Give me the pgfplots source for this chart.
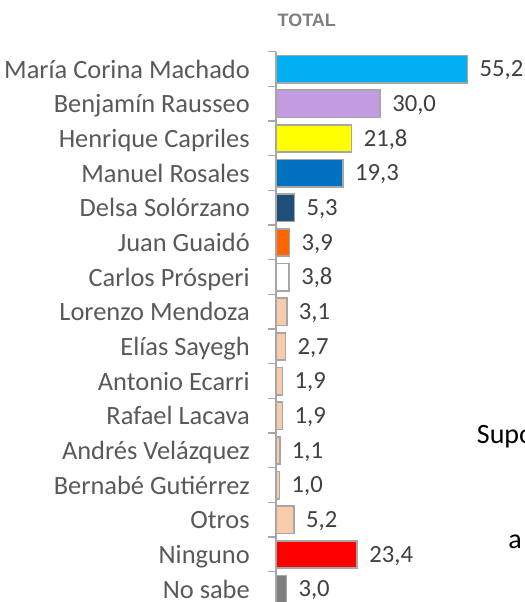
\documentclass[border=0pt]{standalone}
\usepackage{fontspec}
\setmainfont{Carlito}
\newfontfamily\arialfont{Liberation Sans}
\usepackage{pgfplots}
\pgfplotsset{compat=1.18}

\definecolor{labgray}{HTML}{595959}
\definecolor{valgray}{HTML}{404040}
\definecolor{edgegray}{HTML}{A6A6A6}
\definecolor{titlegray}{HTML}{7F7F7F}
\definecolor{ccyan}{HTML}{00B0F0}
\definecolor{clav}{HTML}{C39BE0}
\definecolor{cyel}{HTML}{FFFF00}
\definecolor{cblue}{HTML}{0070C0}
\definecolor{cnavy}{HTML}{1F4E79}
\definecolor{corange}{HTML}{FF6600}
\definecolor{cpeach}{HTML}{F8CBAD}
\definecolor{cred}{HTML}{FF0000}
\definecolor{cgray}{HTML}{808080}

\begin{document}
\begin{tikzpicture}
\begin{axis}[
    anchor=north west, at={(207pt,-38.8pt)},
    scale only axis, width=182.2pt, height=416pt,
    xmin=0, xmax=70, ymin=-0.5, ymax=15.5,
    y dir=reverse, clip=false,
    axis x line=none, axis y line*=left,
    y axis line style={-, draw=edgegray, line width=1.1pt},
    xtick=\empty,
    ytick={0,...,15},
    yticklabels={María Corina Machado, Benjamín Rausseo, Henrique Capriles,
        Manuel Rosales, Delsa Solórzano, Juan Guaidó, Carlos Prósperi,
        Lorenzo Mendoza, Elías Sayegh, Antonio Ecarri, Rafael Lacava,
        Andrés Velázquez, Bernabé Gutiérrez, Otros, Ninguno, No sabe},
    minor ytick={-0.5,0.5,...,15.5},
    ytick pos=left, tick align=outside,
    major tick length=0pt, minor tick length=6pt,
    minor tick style={draw=edgegray, line width=1.1pt},
    yticklabel style={anchor=base east, inner sep=0pt, xshift=-19.5pt,
        yshift=-6.8pt, font=\fontsize{19.8}{22}\selectfont, text=labgray},
    xbar, bar shift=0pt, bar width=20.5pt,
    every axis plot/.append style={draw=edgegray, line width=1.2pt},
    point meta=x,
    nodes near coords,
    /pgf/number format/.cd, fixed, fixed zerofill, precision=1, use comma,
        assume math mode=true,
    /pgfplots/.cd,
    every node near coord/.append style={anchor=base west, inner sep=0pt,
        xshift=8.5pt, yshift=-5.9pt, font=\fontsize{18.5}{20}\selectfont,
        text=valgray},
]
\addplot[fill=ccyan] coordinates {(55.2,0)};
\addplot[fill=clav] coordinates {(30.0,1)};
\addplot[fill=cyel] coordinates {(21.8,2)};
\addplot[fill=cblue] coordinates {(19.3,3)};
\addplot[fill=cnavy] coordinates {(5.3,4)};
\addplot[fill=corange] coordinates {(3.9,5)};
\addplot[fill=white] coordinates {(3.8,6)};
\addplot[fill=cpeach] coordinates {
    (3.1,7) (2.7,8) (1.9,9) (1.9,10) (1.1,11) (1.0,12) (5.2,13)
};
\addplot[fill=cred] coordinates {(23.4,14)};
\addplot[fill=cgray] coordinates {(3.0,15)};
\end{axis}
\pgfresetboundingbox
\path[use as bounding box] (0,0) rectangle (393pt,-451.5pt);
\node[anchor=west, inner sep=0pt, text=titlegray,
    font=\arialfont\bfseries\fontsize{13.5}{15}\selectfont] at (208pt,-15.2pt) {TOTAL};
\node[anchor=base west, inner sep=0pt, text=black,
    font=\fontsize{21}{24}\selectfont] at (357.5pt,-332.3pt) {Supo};
\node[anchor=base west, inner sep=0pt, text=black,
    font=\fontsize{21}{24}\selectfont] at (381pt,-411pt) {a};
\end{tikzpicture}
\end{document}
